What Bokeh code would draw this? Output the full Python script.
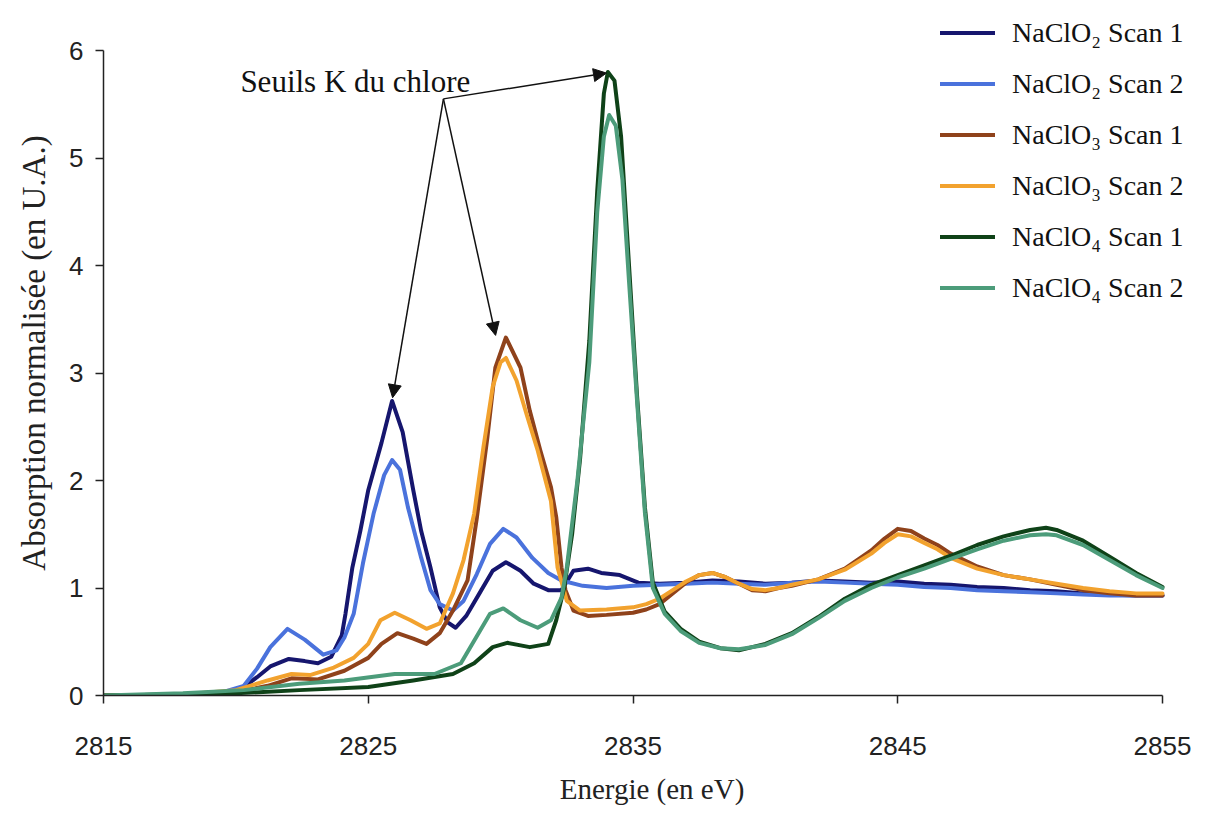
from bokeh.plotting import figure
from bokeh.models import Legend, LegendItem, Arrow, NormalHead, Label, FixedTicker
from bokeh.embed import file_html
from bokeh.resources import INLINE

# ---------------- data ----------------
x_ticks = [2815, 2825, 2835, 2845, 2855]
y_ticks = [0, 1, 2, 3, 4, 5, 6]

labels = ["NaClO₂ Scan 1", "NaClO₂ Scan 2", "NaClO₃ Scan 1",
          "NaClO₃ Scan 2", "NaClO₄ Scan 1", "NaClO₄ Scan 2"]
colors = ["#16166e", "#4a72dc", "#8f421b", "#f2a22e", "#0f4218", "#4c9c7a"]

E1 = [2815, 2818, 2819.5, 2820.3, 2820.8, 2821.3, 2822.0, 2822.6, 2823.1, 2823.6, 2824.0, 2824.14, 2824.4, 2824.7,
      2825.0, 2825.5, 2825.9, 2826.3, 2826.7, 2827.0, 2827.35, 2827.7, 2828.0, 2828.3, 2828.7, 2829.2, 2829.7,
      2830.2, 2830.75, 2831.25, 2831.8, 2832.3, 2832.75, 2833.3, 2833.8, 2834.5, 2835.2, 2836, 2837, 2838, 2839,
      2840, 2841, 2842, 2843, 2844, 2845, 2846, 2847, 2848, 2849, 2850, 2851, 2852, 2853, 2854, 2855]
V1 = [0.0, 0.0, 0.02, 0.08, 0.17, 0.27, 0.34, 0.32, 0.30, 0.36, 0.56, 0.76, 1.19, 1.53,
      1.91, 2.35, 2.74, 2.45, 1.91, 1.53, 1.19, 0.82, 0.68, 0.63, 0.74, 0.95, 1.16,
      1.24, 1.16, 1.04, 0.98, 0.98, 1.16, 1.18, 1.14, 1.12, 1.05, 1.04, 1.05, 1.07, 1.06,
      1.04, 1.05, 1.07, 1.06, 1.05, 1.06, 1.04, 1.03, 1.01, 1.0, 0.98, 0.97, 0.95, 0.94, 0.93, 0.93]

E2 = [2815, 2818, 2819.5, 2820.3, 2820.8, 2821.3, 2821.95, 2822.6, 2823.3, 2823.8, 2824.1, 2824.45, 2824.8,
      2825.2, 2825.6, 2825.9, 2826.2, 2826.5, 2827.0, 2827.35, 2827.7, 2828.2, 2828.6, 2829.1, 2829.6, 2830.1,
      2830.6, 2831.2, 2831.8, 2832.3, 2833.1, 2834, 2835, 2836, 2837, 2838, 2839, 2840, 2841, 2842, 2843,
      2844, 2845, 2846, 2847, 2848, 2849, 2850, 2851, 2852, 2853, 2854, 2855]
V2 = [0.0, 0.01, 0.03, 0.09, 0.25, 0.45, 0.62, 0.52, 0.38, 0.42, 0.54, 0.76, 1.23,
      1.69, 2.05, 2.19, 2.1, 1.75, 1.28, 0.98, 0.85, 0.79, 0.88, 1.13, 1.41, 1.55,
      1.47, 1.28, 1.14, 1.07, 1.02, 1.0, 1.02, 1.03, 1.04, 1.05, 1.04, 1.03, 1.05, 1.06, 1.05,
      1.04, 1.03, 1.01, 1.0, 0.98, 0.97, 0.96, 0.95, 0.94, 0.93, 0.93, 0.93]

E3 = [2815, 2818, 2820, 2821.2, 2822.1, 2823.1, 2824.1, 2825.0, 2825.5, 2826.1, 2826.7, 2827.2, 2827.7,
      2828.2, 2828.75, 2829.1, 2829.5, 2829.8, 2830.2, 2830.75, 2831.1, 2831.5, 2831.9, 2832.1, 2832.3,
      2832.45, 2832.75, 2833.3, 2834, 2835, 2835.5, 2836, 2836.5, 2837, 2837.5, 2838, 2838.5, 2839,
      2839.5, 2840, 2840.5, 2841, 2842, 2843, 2844, 2844.5, 2845, 2845.5, 2846, 2846.5, 2847, 2848,
      2849, 2850, 2851, 2852, 2853, 2854, 2855]
V3 = [0.0, 0.0, 0.03, 0.09, 0.16, 0.15, 0.23, 0.35, 0.48, 0.58, 0.53, 0.48, 0.58,
      0.79, 1.07, 1.65, 2.4, 3.05, 3.33, 3.05, 2.65, 2.28, 1.94, 1.66, 1.19,
      0.98, 0.79, 0.74, 0.75, 0.77, 0.8, 0.85, 0.95, 1.05, 1.12, 1.14, 1.1, 1.04,
      0.98, 0.97, 1.0, 1.02, 1.08, 1.18, 1.35, 1.46, 1.55, 1.53, 1.46, 1.4, 1.32, 1.2,
      1.12, 1.08, 1.03, 0.98, 0.95, 0.93, 0.93]

E4 = [2815, 2818, 2820, 2821.2, 2822.1, 2822.8, 2823.7, 2824.45, 2825.0, 2825.46, 2826.0, 2826.6, 2827.2,
      2827.7, 2828.2, 2828.6, 2829.0, 2829.35, 2829.7, 2830.0, 2830.2, 2830.6, 2831.0, 2831.4, 2831.9,
      2832.15, 2832.5, 2833.0, 2834, 2835, 2835.5, 2836, 2836.5, 2837, 2837.5, 2838, 2838.5, 2839,
      2839.5, 2840, 2840.5, 2841, 2842, 2843, 2844, 2844.5, 2845, 2845.5, 2846, 2846.5, 2847, 2848,
      2849, 2850, 2851, 2852, 2853, 2854, 2855]
V4 = [0.0, 0.01, 0.05, 0.14, 0.2, 0.19, 0.26, 0.35, 0.48, 0.7, 0.77, 0.7, 0.62,
      0.67, 0.95, 1.26, 1.69, 2.31, 2.87, 3.1, 3.14, 2.93, 2.6, 2.28, 1.81,
      1.19, 0.88, 0.79, 0.8, 0.82, 0.85, 0.9, 0.98, 1.06, 1.12, 1.14, 1.1, 1.04,
      0.99, 0.98, 1.0, 1.03, 1.08, 1.17, 1.32, 1.42, 1.5, 1.48, 1.42, 1.36, 1.28, 1.18,
      1.12, 1.08, 1.04, 1.0, 0.97, 0.95, 0.95]

E5 = [2815, 2818, 2820, 2822.4, 2825.0, 2826.7, 2828.2, 2829.0, 2829.7, 2830.25, 2831.1, 2831.8, 2832.1,
      2832.4, 2832.7, 2833.0, 2833.35, 2833.65, 2833.9, 2834.05, 2834.3, 2834.55, 2834.85, 2835.15, 2835.45,
      2835.75, 2836.2, 2836.8, 2837.5, 2838.3, 2839, 2840, 2841, 2842, 2843, 2844, 2845, 2846, 2847,
      2848, 2849, 2850, 2850.6, 2851, 2852, 2853, 2854, 2855]
V5 = [0.0, 0.01, 0.02, 0.05, 0.08, 0.14, 0.2, 0.3, 0.45, 0.49, 0.45, 0.48, 0.7,
      1.0, 1.5, 2.2, 3.3, 4.7, 5.6, 5.8, 5.72, 5.2, 4.0, 2.8, 1.75,
      1.05, 0.78, 0.62, 0.5, 0.44, 0.42, 0.48, 0.58, 0.73, 0.9, 1.03, 1.12, 1.21, 1.3,
      1.4, 1.48, 1.54, 1.56, 1.54, 1.44, 1.29, 1.14, 1.01]

E6 = [2815, 2818, 2820.3, 2822.4, 2824.1, 2826.0, 2827.5, 2828.5, 2829.0, 2829.6, 2830.1, 2830.75, 2831.4,
      2831.9, 2832.3, 2832.5, 2832.9, 2833.35, 2833.65, 2833.9, 2834.1, 2834.35, 2834.6, 2834.85, 2835.15,
      2835.45, 2835.75, 2836.2, 2836.8, 2837.5, 2838.3, 2839, 2840, 2841, 2842, 2843, 2844, 2845, 2846,
      2847, 2848, 2849, 2850, 2850.6, 2851, 2852, 2853, 2854, 2855]
V6 = [0.0, 0.02, 0.05, 0.11, 0.14, 0.2, 0.2, 0.3, 0.51, 0.76, 0.81, 0.7, 0.63,
      0.7, 0.91, 1.19, 2.0, 3.1, 4.5, 5.2, 5.4, 5.3, 4.8, 3.85, 2.75,
      1.7, 1.0, 0.76, 0.6, 0.49, 0.44, 0.43, 0.47, 0.57, 0.72, 0.88, 1.0, 1.1, 1.18,
      1.27, 1.36, 1.44, 1.49, 1.5, 1.49, 1.4, 1.26, 1.12, 1.0]

# annotation "Seuils K du chlore": text anchor, arrow origin and arrow tips (data units)
note_text = "Seuils K du chlore"
note_pos = (2820.17, 5.71)
arrow_origin = (2827.84, 5.55)
arrow_tips_x = [2825.92, 2829.81, 2834.0]
arrow_tips_y = [2.77, 3.35, 5.79]

series_x = [E1, E2, E3, E4, E5, E6]
series_y = [V1, V2, V3, V4, V5, V6]

# ---------------- figure ----------------
# the frame is a little larger than the axes (axes are bounded) so the legend fits inside it
px_per_ev = 1059 / (x_ticks[-1] - x_ticks[0])
px_per_unit = 645 / (y_ticks[-1] - y_ticks[0])
frame_w, frame_h = 1097, 685
p = figure(frame_width=frame_w, frame_height=frame_h,
           x_range=(x_ticks[0], x_ticks[0] + frame_w / px_per_ev),
           y_range=(y_ticks[0], y_ticks[0] + frame_h / px_per_unit),
           output_backend="svg", toolbar_location=None,
           min_border_left=103, min_border_top=10, min_border_right=4, min_border_bottom=110)

p.xgrid.visible = False
p.ygrid.visible = False
p.outline_line_color = None
p.background_fill_color = "white"
p.border_fill_color = "white"

items = []
for xs, ys, lab, col in zip(series_x, series_y, labels, colors):
    r = p.line(xs, ys, line_color=col, line_width=4, line_join="round", line_cap="round")
    items.append(LegendItem(label=lab, renderers=[r]))

legend = Legend(items=items, location=(837, 391),
                label_text_font="Liberation Serif", label_text_font_size="28px",
                label_text_color="#111111",
                glyph_width=55, glyph_height=33, label_height=33, spacing=18,
                padding=0, margin=0, label_standoff=17,
                border_line_color=None, background_fill_alpha=0)
p.add_layout(legend)

for ax in (p.xaxis[0], p.yaxis[0]):
    ax.axis_line_color = "#222222"
    ax.axis_line_width = 1.5
    ax.major_tick_line_color = "#222222"
    ax.major_tick_line_width = 1.5
    ax.major_tick_in = 0
    ax.major_tick_out = 8
    ax.minor_tick_line_color = None
    ax.major_label_text_font = "Liberation Sans"
    ax.major_label_text_font_size = "26px"
    ax.major_label_text_color = "#222222"
    ax.axis_label_text_font = "Liberation Serif"
    ax.axis_label_text_font_style = "normal"
    ax.axis_label_text_color = "#222222"

p.xaxis.bounds = (x_ticks[0], x_ticks[-1])
p.yaxis.bounds = (y_ticks[0], y_ticks[-1])
p.xaxis.ticker = FixedTicker(ticks=x_ticks)
p.yaxis.ticker = FixedTicker(ticks=y_ticks)
p.xaxis.axis_label = "Energie (en eV)"
p.yaxis.axis_label = "Absorption normalisée (en U.A.)"
p.xaxis.axis_label_text_font_size = "29px"
p.yaxis.axis_label_text_font_size = "33px"
p.xaxis.major_label_standoff = 33
p.yaxis.major_label_standoff = 12
p.xaxis.axis_label_standoff = 15
p.yaxis.axis_label_standoff = 14

for tx, ty in zip(arrow_tips_x, arrow_tips_y):
    p.add_layout(Arrow(x_start=arrow_origin[0], y_start=arrow_origin[1], x_end=tx, y_end=ty,
                       line_color="#111111", line_width=1.5,
                       end=NormalHead(size=13, fill_color="#111111", line_color="#111111")))

p.add_layout(Label(x=note_pos[0], y=note_pos[1], text=note_text,
                   text_font="Liberation Serif", text_font_size="31px",
                   text_color="#111111", text_baseline="alphabetic"))

open("out.html", "w").write(file_html(p, INLINE))
